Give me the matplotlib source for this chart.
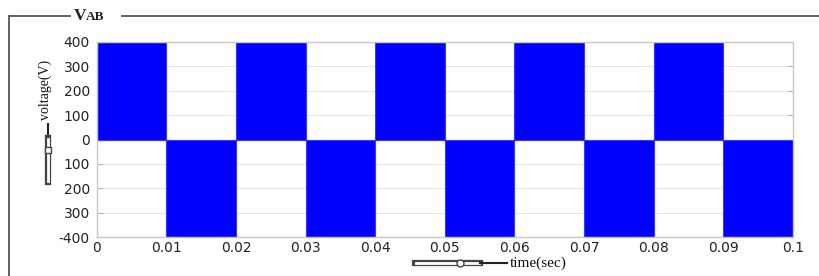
import matplotlib
matplotlib.use("Agg")
import matplotlib.pyplot as plt
from matplotlib.lines import Line2D
import numpy as np

# Square-wave line voltage V_AB (step edges and levels)
edges = [0.0, 0.01, 0.02, 0.03, 0.04, 0.05, 0.06, 0.07, 0.08, 0.09, 0.10]
levels = [400, -400, 400, -400, 400, -400, 400, -400, 400, -400]
xticks = [0, 0.01, 0.02, 0.03, 0.04, 0.05, 0.06, 0.07, 0.08, 0.09, 0.1]
xticklabels = ["0", "0.01", "0.02", "0.03", "0.04", "0.05", "0.06", "0.07", "0.08", "0.09", "0.1"]
yticks = [-400, -300, -200, -100, 0, 100, 200, 300, 400]
yticklabels = ["-400", "300", "200", "100", "0", "100", "200", "300", "400"]

fig = plt.figure(figsize=(8.2, 2.76), dpi=100)
ax = fig.add_axes([0.118, 0.141, 0.849, 0.707])

for i, v in enumerate(levels):
    ax.fill_between([edges[i], edges[i + 1]], [0, 0], [v, v],
                    color="#0000ff", linewidth=0.8, edgecolor="#3a3aff", zorder=2)

ax.set_xlim(0, 0.1)
ax.set_ylim(-400, 400)
ax.set_yticks(yticks)
ax.set_yticklabels(yticklabels)
ax.set_xticks(xticks)
ax.set_xticklabels(xticklabels)
ax.grid(axis="y", color="#e4e4e4", linewidth=0.8, zorder=0)
for s in ax.spines.values():
    s.set_color("#c8c8c8")
    s.set_linewidth(1.0)
ax.tick_params(axis="both", direction="in", length=4, color="#b8b8b8",
               labelsize=10, labelcolor="#222222")
ax.tick_params(axis="y", right=True, pad=5)
ax.tick_params(axis="x", pad=3)
for lab in ax.get_xticklabels() + ax.get_yticklabels():
    lab.set_family("DejaVu Sans")

# Outer frame with title
fc = "#555555"
fig.add_artist(Line2D([9/820, 9/820], [0, 1 - 16/276], color=fc, lw=1.3))
fig.add_artist(Line2D([9/820, 70/820], [1 - 16/276, 1 - 16/276], color=fc, lw=1.3))
fig.add_artist(Line2D([122/820, 1.0], [1 - 16/276, 1 - 16/276], color=fc, lw=1.3))
yb = 1 - 20/276
fig.text(74/820, yb, "V", family="Liberation Serif", fontsize=12.5,
         fontweight="bold", va="baseline", ha="left", color="#222222")
fig.text(86/820, yb, "AB", family="Liberation Serif", fontsize=9.5,
         fontweight="bold", va="baseline", ha="left", color="#222222")

# y label with slider glyph
fig.text(45/820, 1 - 90/276, "voltage(V)", family="Liberation Serif", fontsize=10,
         rotation=90, va="center", ha="center", color="#111111")
fig.add_artist(Line2D([48/820, 48/820], [1 - 124/276, 1 - 138/276], color="#222222", lw=1.5))
fig.add_artist(Line2D([48/820, 48/820], [1 - 138/276, 1 - 182/276], color="#444444", lw=4.5))
fig.add_artist(Line2D([48/820, 48/820], [1 - 139/276, 1 - 181/276], color="white", lw=2.0))
fig.add_artist(Line2D([48/820], [1 - 150/276], marker="s", markersize=5,
                      markerfacecolor="white", markeredgecolor="#444444"))

# x label with slider glyph
yl = 1 - 263/276
fig.add_artist(Line2D([415/820, 480/820], [yl, yl], color="#444444", lw=4.5))
fig.add_artist(Line2D([416/820, 479/820], [yl, yl], color="white", lw=2.0))
fig.add_artist(Line2D([460/820], [yl], marker="o", markersize=5,
                      markerfacecolor="white", markeredgecolor="#444444"))
fig.add_artist(Line2D([480/820, 507/820], [yl, yl], color="#222222", lw=1.5))
fig.text(510/820, yl, "time(sec)", family="Liberation Serif", fontsize=11,
         va="center", ha="left", color="#111111")

fig.savefig("out.png", dpi=100)
